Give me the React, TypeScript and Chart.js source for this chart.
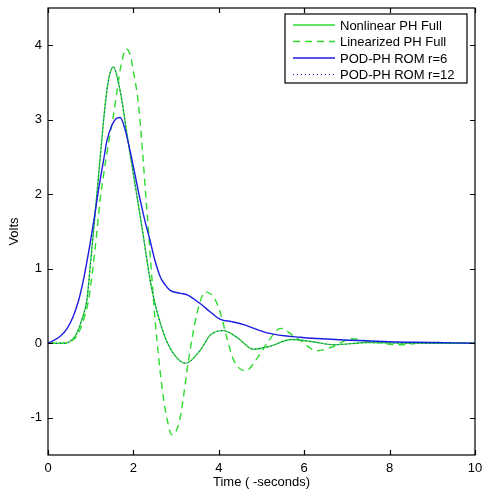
import React, { useEffect, useRef } from "react";
import { Chart, registerables } from "chart.js";

Chart.register(...registerables);

// ---- data ----
const nonlinearT = [0, 0.4, 0.55, 0.67, 0.8, 0.91, 1.0, 1.1, 1.2, 1.3, 1.38, 1.45, 1.53, 1.6, 1.73, 1.85, 2.02, 2.2, 2.43, 2.71, 2.94, 3.22, 3.57, 3.8, 4.1, 4.45, 4.8, 5.2, 5.7, 6.2, 6.7, 7.5, 8.5, 10];
const nonlinearV = [0, 0, 0.04, 0.13, 0.33, 0.58, 1.1, 1.72, 2.35, 2.98, 3.4, 3.62, 3.71, 3.62, 3.26, 2.8, 2.2, 1.56, 0.73, 0.13, -0.14, -0.27, -0.09, 0.11, 0.17, 0.07, -0.08, -0.04, 0.05, 0.02, -0.02, 0.01, 0.0, 0];

const linearT = [0, 0.4, 0.55, 0.7, 0.85, 0.95, 1.1, 1.22, 1.3, 1.45, 1.53, 1.62, 1.7, 1.83, 1.92, 2.0, 2.12, 2.32, 2.43, 2.51, 2.67, 2.8, 2.9, 3.0, 3.1, 3.29, 3.49, 3.69, 3.92, 4.04, 4.2, 4.35, 4.63, 4.9, 5.13, 5.45, 5.7, 5.9, 6.3, 6.7, 7.1, 7.6, 8.2, 9, 10];
const linearV = [0, 0, 0.03, 0.12, 0.35, 0.58, 1.25, 1.92, 2.25, 2.8, 3.05, 3.4, 3.7, 3.95, 3.88, 3.65, 3.2, 1.75, 0.9, 0.3, -0.59, -1.05, -1.23, -1.18, -0.99, -0.23, 0.4, 0.69, 0.58, 0.4, 0.05, -0.23, -0.37, -0.2, 0.0, 0.2, 0.12, 0.04, -0.1, -0.04, 0.06, 0.02, -0.02, 0.01, 0];

const rom6T = [0, 0.28, 0.45, 0.59, 0.71, 0.83, 0.99, 1.1, 1.18, 1.3, 1.38, 1.5, 1.61, 1.69, 1.8, 1.92, 2.0, 2.16, 2.28, 2.39, 2.5, 2.63, 2.75, 2.86, 3.1, 3.26, 3.57, 3.8, 4.04, 4.3, 4.58, 5.13, 5.9, 7.1, 8.0, 9.0, 10];
const rom6V = [0, 0.09, 0.2, 0.36, 0.56, 0.85, 1.35, 1.74, 2.05, 2.45, 2.72, 2.93, 3.02, 3.03, 2.88, 2.59, 2.37, 1.92, 1.62, 1.38, 1.12, 0.89, 0.78, 0.71, 0.67, 0.65, 0.53, 0.42, 0.32, 0.29, 0.25, 0.14, 0.08, 0.04, 0.02, 0.01, 0.0];

// r=12 ROM coincides with the nonlinear full model
const rom12T = nonlinearT;
const rom12V = nonlinearV;

const xTicks = [0, 2, 4, 6, 8, 10];
const yTicks = [-1, 0, 1, 2, 3, 4];
const seriesNames = ["Nonlinear PH Full", "Linearized PH Full", "POD-PH ROM r=6", "POD-PH ROM r=12"];

const GREEN = "#2edc2e";
const BLUE = "#1c1ce0";
const FONT = "'Liberation Sans', Arial, sans-serif";

const toPts = (t: number[], v: number[]) => t.map((x, i) => ({ x, y: v[i] }));

const framePlugin = {
  id: "frameAndLegend",
  afterDraw(chart: any) {
    const { ctx, chartArea, scales } = chart;
    const { left, right, top, bottom } = chartArea;
    ctx.save();
    ctx.strokeStyle = "#000";
    ctx.lineWidth = 1.2;
    ctx.strokeRect(left, top, right - left, bottom - top);
    const tl = 5;
    ctx.beginPath();
    xTicks.forEach((v) => {
      const p = Math.round(scales.x.getPixelForValue(v)) + 0.5;
      ctx.moveTo(p, bottom);
      ctx.lineTo(p, bottom - tl);
      ctx.moveTo(p, top);
      ctx.lineTo(p, top + tl);
    });
    yTicks.forEach((v) => {
      const p = Math.round(scales.y.getPixelForValue(v)) + 0.5;
      ctx.moveTo(left, p);
      ctx.lineTo(left + tl, p);
      ctx.moveTo(right, p);
      ctx.lineTo(right - tl, p);
    });
    ctx.stroke();

    // legend
    const bw = 182;
    const bh = 69;
    const bx = right - 8 - bw;
    const by = top + 6;
    ctx.fillStyle = "#fff";
    ctx.fillRect(bx, by, bw, bh);
    ctx.lineWidth = 1.2;
    ctx.strokeStyle = "#000";
    ctx.strokeRect(bx, by, bw, bh);
    ctx.font = `13px ${FONT}`;
    ctx.textBaseline = "middle";
    ctx.textAlign = "left";
    chart.data.datasets.forEach((ds: any, i: number) => {
      const cy = by + 11 + i * 16.5;
      ctx.beginPath();
      ctx.strokeStyle = ds.borderColor;
      ctx.lineWidth = ds.borderWidth;
      ctx.setLineDash(ds.borderDash || []);
      ctx.moveTo(bx + 8, cy);
      ctx.lineTo(bx + 50, cy);
      ctx.stroke();
      ctx.setLineDash([]);
      ctx.fillStyle = "#000";
      ctx.fillText(ds.label, bx + 55, cy + 1);
    });
    ctx.restore();
  },
};

export default function App() {
  const ref = useRef<HTMLCanvasElement>(null);
  useEffect(() => {
    document.body.style.margin = "0";
    const chart = new Chart(ref.current!, {
      type: "line",
      data: {
        datasets: [
          { label: seriesNames[0], data: toPts(nonlinearT, nonlinearV), borderColor: GREEN, borderWidth: 1.4, order: 3 },
          { label: seriesNames[1], data: toPts(linearT, linearV), borderColor: GREEN, borderWidth: 1.4, borderDash: [7, 5], order: 4 },
          { label: seriesNames[2], data: toPts(rom6T, rom6V), borderColor: BLUE, borderWidth: 1.4, order: 2 },
          { label: seriesNames[3], data: toPts(rom12T, rom12V), borderColor: BLUE, borderWidth: 1, borderDash: [1, 3], order: 1 },
        ].map((d) => ({ ...d, pointRadius: 0, fill: false, cubicInterpolationMode: "monotone" as const })),
      },
      options: {
        animation: false,
        responsive: false,
        parsing: false as any,
        layout: { padding: { top: 8, right: 7, left: 0, bottom: 0 } },
        plugins: { legend: { display: false }, tooltip: { enabled: false } },
        scales: {
          x: {
            type: "linear",
            min: 0,
            max: 10,
            afterBuildTicks: (s: any) => { s.ticks = xTicks.map((value) => ({ value })); },
            afterFit: (s: any) => { s.height = 35; s.paddingLeft = 0; s.paddingRight = 0; },
            grid: { display: false, drawTicks: false, tickLength: 0 },
            border: { display: false },
            ticks: { color: "#000", font: { family: FONT, size: 13 }, padding: 6, maxRotation: 0 },
            title: { display: true, text: "Time ( -seconds)", color: "#000", font: { family: FONT, size: 13 }, padding: { top: 0, bottom: 0 } },
          },
          y: {
            type: "linear",
            min: -1.5,
            max: 4.5,
            afterBuildTicks: (s: any) => { s.ticks = yTicks.map((value) => ({ value })); },
            afterFit: (s: any) => { s.width = 48; s.paddingTop = 0; s.paddingBottom = 0; },
            grid: { display: false, drawTicks: false, tickLength: 0 },
            border: { display: false },
            ticks: { color: "#000", font: { family: FONT, size: 13 }, padding: 6 },
            title: { display: true, text: "Volts", color: "#000", font: { family: FONT, size: 13 }, padding: { top: 7, bottom: 0 } },
          },
        },
      },
      plugins: [framePlugin],
    });
    return () => chart.destroy();
  }, []);
  return <canvas ref={ref} width={482} height={490} style={{ display: "block" }} />;
}
